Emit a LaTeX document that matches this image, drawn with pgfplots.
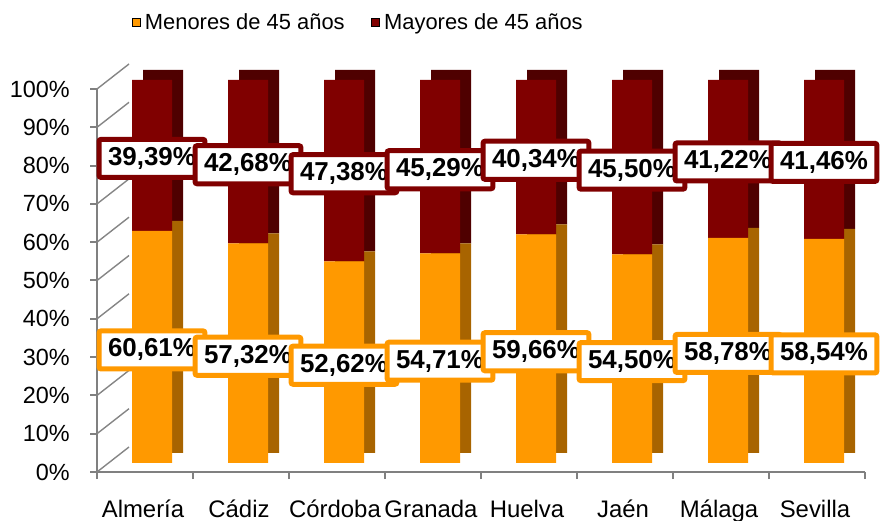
\documentclass[border=0pt]{standalone}
\usepackage{fontspec}
\setmainfont{Liberation Sans}
\usepackage{pgfplots}
\pgfplotsset{compat=1.18}
\usepackage{pgfplotstable}
\definecolor{orF}{HTML}{FF9900}
\definecolor{orS}{HTML}{A86400}
\definecolor{rdF}{HTML}{800000}
\definecolor{rdS}{HTML}{4F0000}
\definecolor{axgray}{HTML}{808080}
\definecolor{grgray}{HTML}{A6A6A6}

\pgfplotstableread{
x young old
0 60.61 39.39
1 57.32 42.68
2 52.62 47.38
3 54.71 45.29
4 59.66 40.34
5 54.50 45.50
6 58.78 41.22
7 58.54 41.46
}\data

\pgfplotsset{
  base/.style={scale only axis, width=768bp, height=383bp, xmin=-0.5, xmax=7.5,
    ymin=0, ymax=100, anchor=south west, clip=false},
  hidden/.style={base, axis lines=none, xtick=\empty, ytick=\empty},
  lbl/.style={draw=none, point meta=explicit,
    nodes near coords={\pgfmathprintnumber[fixed,fixed zerofill,precision=2,use comma]{\pgfplotspointmeta}\%\hspace{5bp}},
    /pgf/number format/assume math mode=true,
    every node near coord/.append style={anchor=center, fill=white, draw=#1,
      line width=5bp, inner xsep=9bp, inner ysep=8bp, rounded corners=2bp,
      font=\fontsize{26}{30}\selectfont\bfseries, text=black, yshift=-3bp}},
}

\begin{document}
\begin{tikzpicture}
\useasboundingbox (0,0) rectangle (884bp,521bp);
% back wall grid
\begin{axis}[base, at={(129bp,74bp)}, axis lines=none, xtick=\empty,
  ytick={0,10,...,100}, yticklabels={}, ymajorgrids, major tick length=0pt,
  major grid style={grgray, dash pattern=on 3bp off 2bp, line width=1.6bp}]
\addplot[draw=none] coordinates {(0,0)};
\end{axis}
% front frame
\begin{axis}[base, at={(97bp,49bp)}, axis lines*=left,
  axis line style={axgray, line width=2bp},
  tick style={axgray, line width=2bp}, tick align=outside,
  major tick length=7bp, minor tick length=7bp,
  ytick={0,10,...,100},
  yticklabels={0\%,10\%,20\%,30\%,40\%,50\%,60\%,70\%,80\%,90\%,100\%},
  yticklabel style={font=\fontsize{23.5}{28}\selectfont, anchor=east, inner sep=0pt, xshift=-20bp},
  xtick={0,...,7},
  xticklabels={Almería,Cádiz,Córdoba,Granada,Huelva,Jaén,Málaga,Sevilla},
  minor xtick={-0.5,0.5,...,7.5},
  major x tick style={draw=none},
  xticklabel style={font=\fontsize{24}{28}\selectfont, anchor=base, yshift=-38bp, xshift=-2bp, inner sep=0pt},
  legend columns=2,
  legend image code/.code={\fill[#1] (0bp,-4bp) rectangle (8bp,4bp); \path (11bp,0bp);},
  legend style={draw=none, fill=none, at={(0.34,1.175)}, anchor=center,
    font=\fontsize{22}{26}\selectfont,
    /tikz/every even column/.append style={column sep=24bp}},
]
\addlegendimage{fill=orF}
\addlegendentry{Menores de 45 años}
\addlegendimage{fill=rdF}
\addlegendentry{Mayores de 45 años}
\pgfplotsinvokeforeach{0,10,...,100}{
  \draw[grgray!80!black, line width=1.4bp] (axis cs:-0.5,#1) -- ++(32bp,25bp);
}
\end{axis}
% bar depth (side and top faces)
\begin{axis}[hidden, at={(115bp,68bp)}, ybar stacked, bar width=40bp]
\addplot[fill=orS, draw=none] table[x=x,y=young]{\data};
\addplot[fill=rdS, draw=none] table[x=x,y=old]{\data};
\end{axis}
% bar fronts
\begin{axis}[hidden, at={(104bp,58bp)}, ybar stacked, bar width=40bp]
\addplot[fill=orF, draw=none] table[x=x,y=young]{\data};
\addplot[fill=rdF, draw=none] table[x=x,y=old]{\data};
\end{axis}
% labels
\begin{axis}[hidden, at={(104bp,58bp)}]
\addplot[lbl=orF] table[x=x, y expr=\thisrow{young}/2, meta=young]{\data};
\addplot[lbl=rdF] table[x=x, y expr=\thisrow{young}+\thisrow{old}/2, meta=old]{\data};
\end{axis}
\end{tikzpicture}
\end{document}
